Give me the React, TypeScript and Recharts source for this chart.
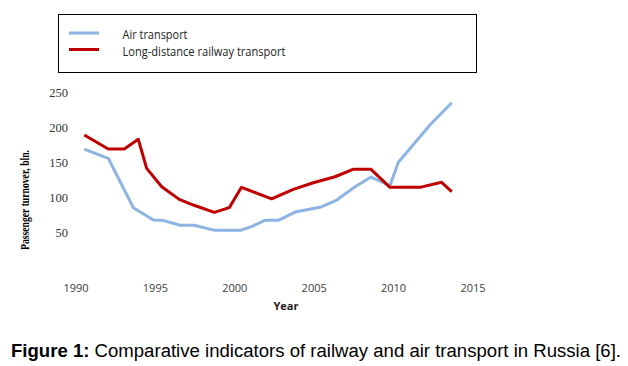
import React from "react";
import { LineChart, Line, XAxis, YAxis, Legend } from "recharts";

const xTicks = [1990, 1995, 2000, 2005, 2010, 2015];
const yTicks = [50, 100, 150, 200, 250];

const airYears = [1990.52, 1992.03, 1993.61, 1994.87, 1995.48, 1996.55, 1997.43, 1998.75, 2000.36, 2001.08, 2001.9, 2002.74, 2003.79, 2004.53, 2005.37, 2006.42, 2007.57, 2008.58, 2009.77, 2010.3, 2012.29, 2013.66];
const airValues = [169.7, 156.5, 86.1, 68.5, 68.1, 61.1, 61, 53.8, 53.8, 59.5, 68.1, 68.1, 79.9, 83.2, 86.6, 97, 116, 129.8, 117.7, 150.9, 203.9, 235.7];

const railYears = [1990.52, 1992.03, 1993.04, 1993.92, 1994.45, 1995.4, 1996.5, 1997.39, 1998.71, 1999.65, 2000.42, 2002.32, 2003.68, 2004.94, 2006.31, 2007.44, 2008.58, 2009.77, 2011.66, 2013.02, 2013.66];
const railValues = [189.7, 169.7, 169.7, 183.6, 142.2, 116, 98, 89.9, 79.5, 86.1, 115.1, 98.7, 112.3, 121.7, 130.2, 140.8, 140.8, 115.1, 115.1, 122.3, 108.9];

const airData = airYears.map((year, i) => ({ year, value: airValues[i] }));
const railData = railYears.map((year, i) => ({ year, value: railValues[i] }));

const SANS = "'Open Sans', 'Liberation Sans', sans-serif";
const SERIF = "'Liberation Serif', 'Times New Roman', serif";

const XTick = (props: any) => {
  const { x, y, payload } = props;
  return (
    <text x={x} y={y + 19} textAnchor="middle" dominantBaseline="central" fontFamily={SANS} fontSize={11} fill="#404040">
      {payload.value}
    </text>
  );
};

const YTick = (props: any) => {
  const { x, y, payload } = props;
  return (
    <text x={x} y={y} textAnchor="end" dominantBaseline="central" fontFamily={SERIF} fontSize={12.5} fill="#333">
      {payload.value}
    </text>
  );
};

const LegendBox = (props: any) => {
  const payload = props.payload || [];
  const widths = [65, 163];
  return (
    <svg width={420} height={60} style={{ display: "block" }}>
      <rect x={0.5} y={0.5} width={418} height={58} fill="#fff" stroke="#000" strokeWidth={1} />
      {payload.map((p: any, i: number) => {
        const cy = 19 + i * 16.5;
        return (
          <g key={i}>
            <line x1={11} x2={41} y1={cy} y2={cy} stroke={p.color} strokeWidth={3} />
            <text x={64.5} y={cy + 1.5} dominantBaseline="central" fontFamily={SANS} fontSize={12} fill="#222" textLength={widths[i]} lengthAdjust="spacingAndGlyphs">
              {p.value}
            </text>
          </g>
        );
      })}
    </svg>
  );
};

export default function App() {
  return (
    <div style={{ position: "absolute", left: 0, top: 0, width: 628, height: 366, background: "#fff" }}>
      <LineChart width={628} height={366} data={airData} margin={{ top: 92.7, right: 155, bottom: 67.9, left: 0 }}>
        <XAxis
          type="number"
          dataKey="year"
          domain={[1990, 2015]}
          ticks={xTicks}
          axisLine={false}
          tickLine={false}
          tickSize={0}
          tickMargin={0}
          height={30}
          tick={<XTick />}
          interval={0}
        />
        <YAxis
          type="number"
          domain={[0, 250]}
          ticks={yTicks}
          axisLine={false}
          tickLine={false}
          tickSize={0}
          tickMargin={8}
          width={76}
          tick={<YTick />}
          interval={0}
        />
        <Legend
          layout="horizontal"
          verticalAlign="middle"
          align="center"
          content={<LegendBox />}
          wrapperStyle={{ position: "absolute", left: 58, top: 14, width: 420, height: 60 }}
        />
        <Line data={airData} dataKey="value" name="Air transport" stroke="#8EB4E3" strokeWidth={3} dot={false} activeDot={false} isAnimationActive={false} strokeLinejoin="round" />
        <Line data={railData} dataKey="value" name="Long-distance railway transport" stroke="#C00000" strokeWidth={3} dot={false} activeDot={false} isAnimationActive={false} strokeLinejoin="round" />
      </LineChart>
      <svg width={628} height={366} style={{ position: "absolute", left: 0, top: 0, pointerEvents: "none" }}>
        <text x={286} y={305} textAnchor="middle" dominantBaseline="central" fontFamily={SANS} fontSize={11} fontWeight="bold" fill="#222">
          Year
        </text>
        <text
          x={0}
          y={0}
          transform="translate(24.5,200) rotate(-90)"
          textAnchor="middle"
          dominantBaseline="central"
          fontFamily={SERIF}
          fontSize={13}
          fontWeight="bold"
          fill="#000"
          textLength={100}
          lengthAdjust="spacingAndGlyphs"
        >
          Passenger turnover, bln.
        </text>
        <text x={11} y={357} fontFamily="'Liberation Sans', Arial, sans-serif" fontSize={18} fill="#000" textLength={610} lengthAdjust="spacingAndGlyphs">
          <tspan fontWeight="bold">Figure 1:</tspan>
          <tspan> Comparative indicators of railway and air transport in Russia [6].</tspan>
        </text>
      </svg>
    </div>
  );
}
